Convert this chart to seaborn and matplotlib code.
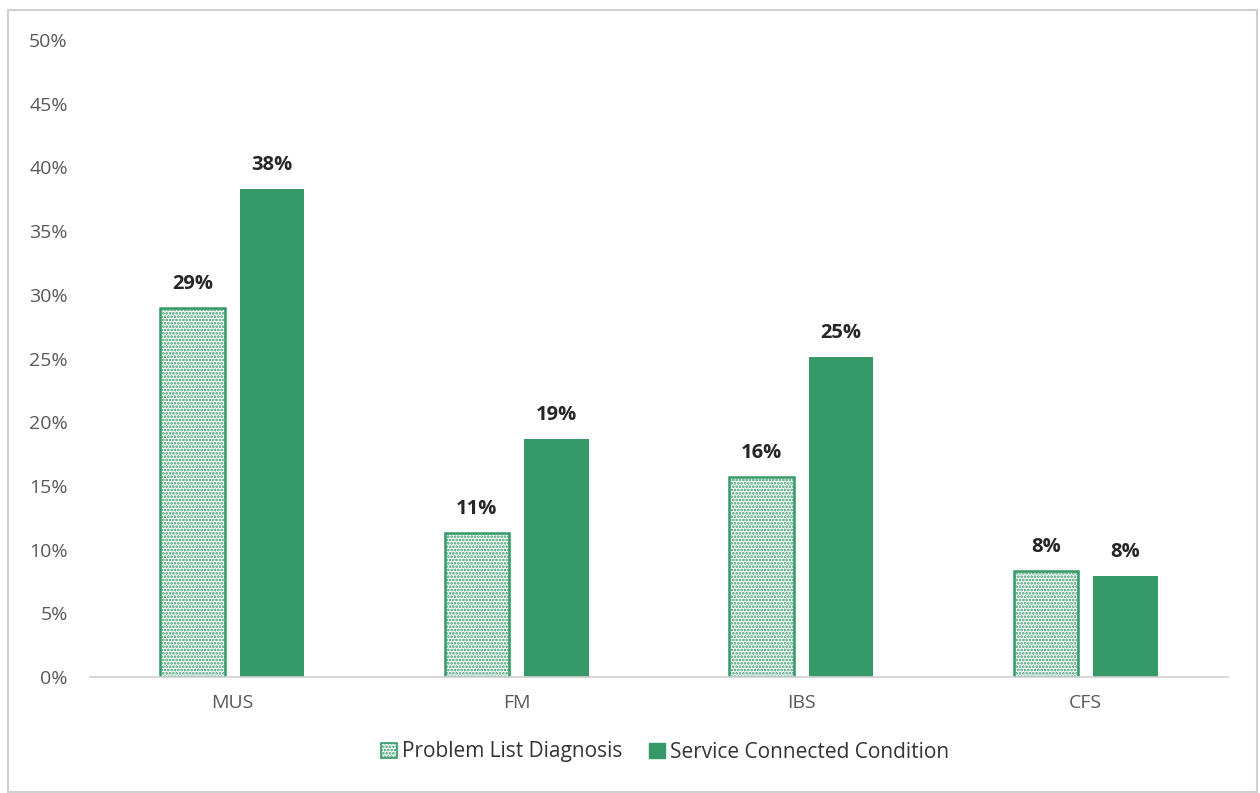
import matplotlib
matplotlib.use("Agg")
import matplotlib.pyplot as plt
import seaborn as sns
import pandas as pd
from matplotlib.patches import Rectangle, Patch

categories = ["MUS", "FM", "IBS", "CFS"]
series_names = ["Problem List Diagnosis", "Service Connected Condition"]
problem_list = [29.0, 11.3, 15.7, 8.3]
service_connected = [38.3, 18.7, 25.1, 7.9]
label_problem = ["29%", "11%", "16%", "8%"]
label_service = ["38%", "19%", "25%", "8%"]
yticks = [0, 5, 10, 15, 20, 25, 30, 35, 40, 45, 50]

green = "#359A68"
text_grey = "#595959"

df = pd.DataFrame({
    "Category": categories * 2,
    "Series": [series_names[0]] * 4 + [series_names[1]] * 4,
    "Value": problem_list + service_connected,
})

sns.set_theme(style="white")
plt.rcParams["font.family"] = ["Open Sans", "DejaVu Sans"]
plt.rcParams["hatch.linewidth"] = 1.3
plt.rcParams["hatch.color"] = green

fig = plt.figure(figsize=(12.6, 7.93), dpi=100)
ax = fig.add_axes([90 / 1260, 1 - 677 / 793, (1228 - 90) / 1260, (677 - 40) / 793])

sns.barplot(data=df, x="Category", y="Value", hue="Series", order=categories,
            hue_order=series_names, palette=[green, green], width=0.56, gap=0.19,
            ax=ax, legend=False, saturation=1)

cont_p, cont_s = ax.containers[0], ax.containers[1]
for b in cont_p:
    b.set_facecolor("white")
    b.set_edgecolor(green)
    b.set_hatch(".....")
    b.set_linewidth(1.8)
for b in cont_s:
    b.set_facecolor(green)
    b.set_edgecolor(green)
    b.set_linewidth(0)

ax.bar_label(cont_p, labels=label_problem, padding=10, fontsize=14.5, fontweight="bold", color="#262626")
ax.bar_label(cont_s, labels=label_service, padding=10, fontsize=14.5, fontweight="bold", color="#262626")

ax.set_ylim(0, 50)
ax.set_xlim(-0.5, 3.5)
ax.set_yticks(yticks)
ax.set_yticklabels([f"{v}%" for v in yticks])
ax.set_xlabel("")
ax.set_ylabel("")
ax.tick_params(axis="y", length=0, pad=16, labelsize=14, labelcolor=text_grey)
ax.tick_params(axis="x", length=0, pad=12, labelsize=14, labelcolor=text_grey)
for s in ["top", "right", "left"]:
    ax.spines[s].set_visible(False)
ax.spines["bottom"].set_color("#d0d0d0")
ax.spines["bottom"].set_linewidth(1.2)

handles = [
    Patch(facecolor="white", edgecolor=green, hatch=".....", linewidth=1.2),
    Patch(facecolor=green, edgecolor=green),
]
fig.legend(handles, series_names, loc="center", bbox_to_anchor=(665 / 1260, 1 - 752 / 793),
           ncol=2, frameon=False, fontsize=15, handlelength=0.75, handleheight=0.75,
           handletextpad=0.25, columnspacing=1.3, labelcolor="#333333")

fig.patches.append(Rectangle((8 / 1260, 1 / 793), 1249 / 1260, 782 / 793, transform=fig.transFigure,
                             fill=False, edgecolor="#d0d0d0", linewidth=1.5))

fig.savefig("out.png", dpi=100, facecolor="white")
